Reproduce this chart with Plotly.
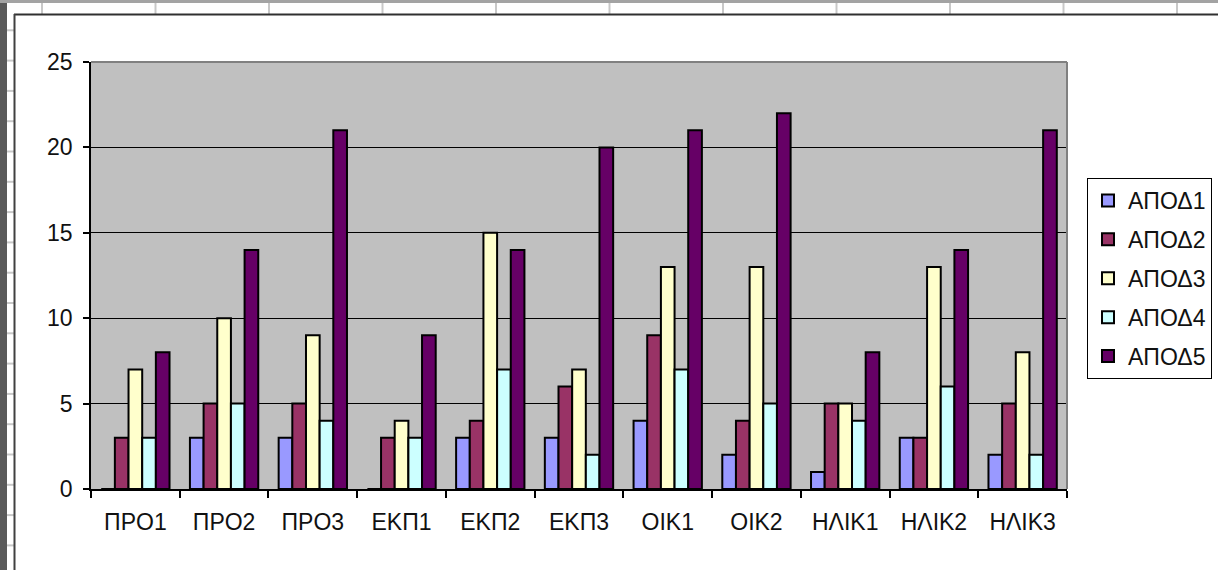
import plotly.graph_objects as go

# Categories and series values
categories = ["ΠΡΟ1", "ΠΡΟ2", "ΠΡΟ3", "ΕΚΠ1", "ΕΚΠ2", "ΕΚΠ3",
              "ΟΙΚ1", "ΟΙΚ2", "ΗΛΙΚ1", "ΗΛΙΚ2", "ΗΛΙΚ3"]
series_names = ["ΑΠΟΔ1", "ΑΠΟΔ2", "ΑΠΟΔ3", "ΑΠΟΔ4", "ΑΠΟΔ5"]
apod1 = [0, 3, 3, 0, 3, 3, 4, 2, 1, 3, 2]
apod2 = [3, 5, 5, 3, 4, 6, 9, 4, 5, 3, 5]
apod3 = [7, 10, 9, 4, 15, 7, 13, 13, 5, 13, 8]
apod4 = [3, 5, 4, 3, 7, 2, 7, 5, 4, 6, 2]
apod5 = [8, 14, 21, 9, 14, 20, 21, 22, 8, 14, 21]
y_ticks = [0, 5, 10, 15, 20, 25]

series_values = [apod1, apod2, apod3, apod4, apod5]
colors = ["#9999FF", "#993366", "#FFFFCC", "#CCFFFF", "#660066"]

W, H = 1218, 570


def px(x):
    return x / W


def py(y):
    return 1 - y / H


fig = go.Figure()
for i, (name, vals, col) in enumerate(zip(series_names, series_values, colors)):
    fig.add_trace(go.Bar(
        x=categories, y=vals, name=name, legendgroup=f"g{i}",
        marker=dict(color=col, line=dict(color="#000000", width=2)),
    ))

FONT = "Liberation Sans, Arial, sans-serif"

shapes = []
# spreadsheet frame around the chart object
shapes.append(dict(type="rect", xref="paper", yref="paper",
                   x0=0, x1=px(7), y0=0, y1=1,
                   fillcolor="#5a5a5a", line=dict(width=0), layer="below"))
shapes.append(dict(type="rect", xref="paper", yref="paper",
                   x0=0, x1=1, y0=py(3), y1=1,
                   fillcolor="#a3a3a3", line=dict(width=0), layer="below"))
for cx in [42 + 113.5 * k for k in range(11)]:
    shapes.append(dict(type="line", xref="paper", yref="paper",
                       x0=px(cx), x1=px(cx), y0=py(14), y1=py(3),
                       line=dict(color="#c8c8c8", width=2), layer="below"))
for ry in [30.3 * k for k in range(1, 19)]:
    shapes.append(dict(type="line", xref="paper", yref="paper",
                       x0=px(7), x1=px(14), y0=py(ry), y1=py(ry),
                       line=dict(color="#c8c8c8", width=2), layer="below"))
shapes.append(dict(type="line", xref="paper", yref="paper",
                   x0=px(14), x1=1, y0=py(14.5), y1=py(14.5),
                   line=dict(color="#303030", width=2), layer="below"))
shapes.append(dict(type="line", xref="paper", yref="paper",
                   x0=px(14.5), x1=px(14.5), y0=0, y1=py(14),
                   line=dict(color="#404040", width=2), layer="below"))
# plot-area border on the top and right
shapes.append(dict(type="line", xref="x domain", yref="y domain",
                   x0=0, x1=1, y0=1, y1=1,
                   line=dict(color="#808080", width=2)))
shapes.append(dict(type="line", xref="x domain", yref="y domain",
                   x0=1, x1=1, y0=0, y1=1,
                   line=dict(color="#808080", width=2)))

fig.update_layout(
    width=W, height=H,
    margin=dict(l=0, r=0, t=0, b=0, autoexpand=False),
    paper_bgcolor="#ffffff",
    plot_bgcolor="#c0c0c0",
    barmode="group",
    bargap=0.23,
    bargroupgap=0,
    font=dict(family=FONT, size=23, color="#111111"),
    showlegend=True,
    legend=dict(
        x=px(1087), y=py(178), xanchor="left", yanchor="top",
        bordercolor="#000000", borderwidth=1, bgcolor="#ffffff",
        font=dict(family=FONT, size=23, color="#111111"),
        tracegroupgap=6, traceorder="grouped",
        itemwidth=30,
    ),
    xaxis=dict(
        domain=[px(91), px(1067)], automargin=False,
        showline=True, linecolor="#000000", linewidth=1.5,
        ticks="outside", tickson="boundaries", ticklen=7,
        tickcolor="#000000", tickwidth=1.5, ticklabelstandoff=12,
        showgrid=False, fixedrange=True,
    ),
    yaxis=dict(
        domain=[py(489), py(62)], automargin=False,
        range=[0, 25], tickvals=y_ticks,
        showline=True, linecolor="#000000", linewidth=1.5,
        ticks="outside", ticklen=6, tickcolor="#000000", tickwidth=1.5,
        ticklabelstandoff=6,
        showgrid=True, gridcolor="#000000", gridwidth=1,
        zeroline=False, fixedrange=True,
    ),
    shapes=shapes,
)

fig.write_html("out.html")
